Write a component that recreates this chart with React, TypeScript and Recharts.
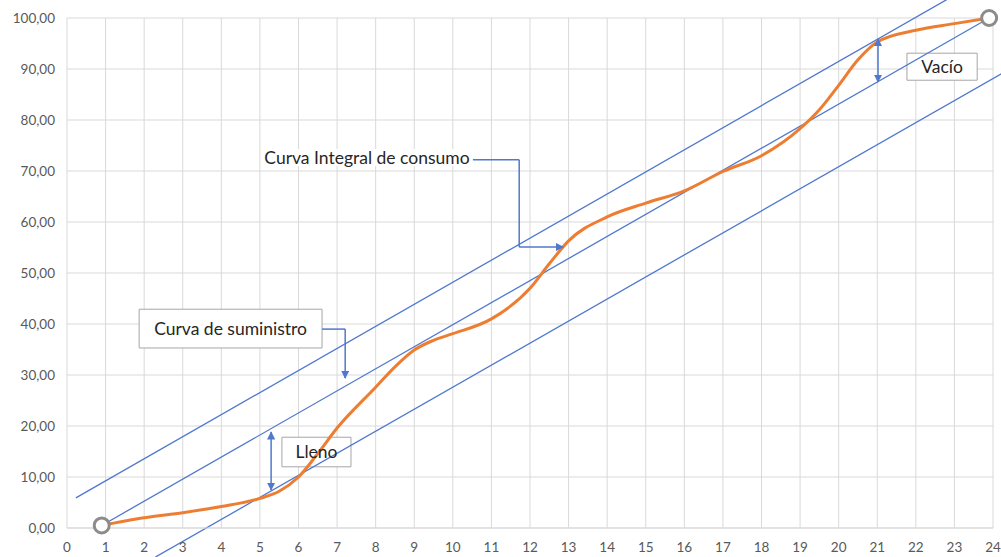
import {
  ComposedChart,
  Line,
  XAxis,
  YAxis,
  CartesianGrid,
  ReferenceLine,
  ReferenceArea,
  ReferenceDot,
} from "recharts";

// curva integral de consumo (hora, % acumulado)
const horas = [0.9, 2, 3, 4, 5, 5.5, 6, 6.5, 7, 8, 8.5, 9, 9.5, 10, 11, 12, 12.5, 13, 14, 15, 16, 17, 18, 19, 19.5, 20, 20.5, 21, 22, 23, 23.9];
const consumo = [0.5, 2.0, 3.0, 4.2, 5.8, 7.2, 10.0, 14.6, 19.6, 27.6, 31.6, 34.9, 36.8, 38.1, 41.0, 47.0, 51.8, 56.3, 61.0, 63.7, 66.1, 69.9, 73.0, 78.3, 82.0, 86.8, 91.8, 95.3, 97.6, 98.9, 100];

// rectas de suministro
const suministro = [{ x: 0.9, y: 0.5 }, { x: 23.9, y: 100 }];
const limiteSuperior = [{ x: 0.23, y: 5.9 }, { x: 22.8, y: 103.6 }];
const limiteInferior = [{ x: 2.29, y: -5.7 }, { x: 24.25, y: 89.2 }];

const ticksHoras = Array.from({ length: 25 }, (_, i) => i);
const ticksVolumen = [0, 10, 20, 30, 40, 50, 60, 70, 80, 90, 100];

const data = horas.map((h, i) => ({ h, v: consumo[i] }));

const AZUL = "#5078cd";
const NARANJA = "#ed7d31";
const GRIS = "#d9d9d9";
const TEXTO = "#262626";

const flecha = (inicio: boolean, fin: boolean) => (p: any) => (
  <line
    x1={p.x1}
    y1={p.y1}
    x2={p.x2}
    y2={p.y2}
    stroke={AZUL}
    strokeWidth={1.5}
    markerStart={inicio ? "url(#punta)" : undefined}
    markerEnd={fin ? "url(#punta)" : undefined}
  />
);

const tramo = (p: any) => (
  <line x1={p.x1} y1={p.y1} x2={p.x2} y2={p.y2} stroke={AZUL} strokeWidth={1.5} />
);

const circulo = (p: any) => (
  <circle cx={p.cx} cy={p.cy} r={7.5} fill="#fff" stroke="#8c8c8c" strokeWidth={3} />
);

const cajaLabel = (value: string) => ({ value, position: "center" as const, fill: TEXTO, fontSize: 17.5 });

export default function App() {
  return (
    <div style={{ fontFamily: "Lato, 'Liberation Sans', sans-serif" }}>
      <style>{"body{margin:0}"}</style>
      <svg width={0} height={0} style={{ position: "absolute" }}>
        <defs>
          <marker
            id="punta"
            viewBox="0 0 10 10"
            refX="9"
            refY="5"
            markerWidth="5.5"
            markerHeight="5.5"
            orient="auto-start-reverse"
          >
            <path d="M0,0 L10,5 L0,10 z" fill={AZUL} />
          </marker>
        </defs>
      </svg>
      <ComposedChart
        width={1001}
        height={557}
        data={data}
        margin={{ top: 18, right: 8, left: 0, bottom: 0 }}
      >
        <CartesianGrid stroke={GRIS} strokeWidth={1} />
        <XAxis
          dataKey="h"
          type="number"
          domain={[0, 24]}
          ticks={ticksHoras}
          interval={0}
          height={29}
          tickLine={false}
          axisLine={{ stroke: GRIS }}
          tickMargin={8}
          tick={{ fill: "#595959", fontSize: 13.5 }}
        />
        <YAxis
          type="number"
          domain={[0, 100]}
          ticks={ticksVolumen}
          width={67}
          tickLine={false}
          axisLine={false}
          tickMargin={6}
          tick={{ fill: "#595959", fontSize: 13.5 }}
          tickFormatter={(v: number) => v.toFixed(2).replace(".", ",")}
        />

        <ReferenceLine segment={limiteSuperior} ifOverflow="visible" stroke={AZUL} strokeWidth={1.3} />
        <ReferenceLine segment={suministro} ifOverflow="visible" stroke={AZUL} strokeWidth={1.3} />
        <ReferenceLine segment={limiteInferior} ifOverflow="visible" stroke={AZUL} strokeWidth={1.3} />

        <Line
          dataKey="v"
          type="monotone"
          stroke={NARANJA}
          strokeWidth={3}
          dot={false}
          activeDot={false}
          isAnimationActive={false}
        />

        <ReferenceDot x={0.9} y={0.5} ifOverflow="visible" shape={circulo} />
        <ReferenceDot x={23.9} y={100} ifOverflow="visible" shape={circulo} />

        {/* Lleno / Vacío */}
        <ReferenceLine segment={[{ x: 5.29, y: 18.8 }, { x: 5.29, y: 7.45 }]} ifOverflow="visible" shape={flecha(true, true)} />
        <ReferenceLine segment={[{ x: 21.02, y: 95.9 }, { x: 21.02, y: 87.45 }]} ifOverflow="visible" shape={flecha(true, true)} />

        {/* conector curva de suministro */}
        <ReferenceLine segment={[{ x: 6.61, y: 39.0 }, { x: 7.21, y: 39.0 }]} ifOverflow="visible" shape={tramo} />
        <ReferenceLine segment={[{ x: 7.21, y: 39.0 }, { x: 7.21, y: 29.4 }]} ifOverflow="visible" shape={flecha(false, true)} />

        {/* conector curva integral */}
        <ReferenceLine segment={[{ x: 10.52, y: 72.2 }, { x: 11.72, y: 72.2 }]} ifOverflow="visible" shape={tramo} />
        <ReferenceLine segment={[{ x: 11.72, y: 72.2 }, { x: 11.72, y: 55.1 }]} ifOverflow="visible" shape={tramo} />
        <ReferenceLine segment={[{ x: 11.72, y: 55.1 }, { x: 12.86, y: 55.1 }]} ifOverflow="visible" shape={flecha(false, true)} />

        <ReferenceArea
          x1={5.05}
          x2={10.5}
          y1={71.0}
          y2={74.3}
          ifOverflow="visible"
          fill="#fff"
          fillOpacity={1}
          stroke="none"
          label={cajaLabel("Curva Integral de consumo")}
        />
        <ReferenceArea
          x1={1.87}
          x2={6.61}
          y1={35.3}
          y2={42.9}
          ifOverflow="visible"
          fill="#fff"
          fillOpacity={1}
          stroke="#a6a6a6"
          label={cajaLabel("Curva de suministro")}
        />
        <ReferenceArea
          x1={5.57}
          x2={7.36}
          y1={12.0}
          y2={17.8}
          ifOverflow="visible"
          fill="#fff"
          fillOpacity={1}
          stroke="#a6a6a6"
          label={cajaLabel("Lleno")}
        />
        <ReferenceArea
          x1={21.77}
          x2={23.59}
          y1={87.8}
          y2={93.1}
          ifOverflow="visible"
          fill="#fff"
          fillOpacity={1}
          stroke="#a6a6a6"
          label={cajaLabel("Vacío")}
        />
      </ComposedChart>
    </div>
  );
}
